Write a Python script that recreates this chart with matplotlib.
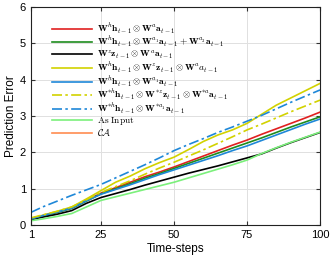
import matplotlib
matplotlib.use("Agg")
import matplotlib.pyplot as plt

x_steps = [1, 5, 10, 15, 20, 25, 30, 35, 40, 45, 50, 55, 60, 65, 70, 75, 80, 85, 90, 95, 100]

red_vals = [0.18, 0.26, 0.36, 0.47, 0.68, 0.88, 1.03, 1.18, 1.33, 1.46, 1.60, 1.75, 1.90, 2.05, 2.20, 2.34, 2.50, 2.65, 2.80, 2.95, 3.11]
green_vals = [0.16, 0.25, 0.35, 0.46, 0.66, 0.86, 1.00, 1.14, 1.29, 1.42, 1.56, 1.70, 1.84, 1.98, 2.12, 2.26, 2.40, 2.55, 2.70, 2.84, 2.98]
black_vals = [0.15, 0.22, 0.30, 0.40, 0.60, 0.76, 0.87, 0.98, 1.10, 1.21, 1.32, 1.43, 1.53, 1.63, 1.74, 1.85, 1.96, 2.12, 2.27, 2.41, 2.55]
yellow_vals = [0.18, 0.27, 0.38, 0.50, 0.72, 0.95, 1.18, 1.35, 1.55, 1.72, 1.87, 2.08, 2.30, 2.48, 2.62, 2.80, 3.05, 3.30, 3.50, 3.70, 3.90]
blue_vals = [0.17, 0.26, 0.36, 0.47, 0.67, 0.85, 0.98, 1.11, 1.25, 1.39, 1.52, 1.65, 1.78, 1.91, 2.05, 2.18, 2.33, 2.48, 2.63, 2.78, 2.92]
yellow_dd_vals = [0.20, 0.28, 0.38, 0.50, 0.70, 0.90, 1.06, 1.22, 1.40, 1.57, 1.73, 1.90, 2.07, 2.25, 2.43, 2.62, 2.78, 2.95, 3.12, 3.28, 3.44]
blue_dd_vals = [0.35, 0.50, 0.66, 0.82, 0.97, 1.12, 1.30, 1.48, 1.66, 1.85, 2.05, 2.22, 2.38, 2.55, 2.70, 2.86, 3.02, 3.20, 3.38, 3.55, 3.72]
input_vals = [0.12, 0.17, 0.24, 0.32, 0.50, 0.68, 0.78, 0.88, 0.98, 1.08, 1.18, 1.30, 1.42, 1.54, 1.66, 1.79, 1.97, 2.13, 2.28, 2.42, 2.56]
ca_x = []
ca_vals = []

x_ticks = [1, 25, 50, 75, 100]
y_ticks = [0, 1, 2, 3, 4, 5, 6]

labels = [
    r"$\mathbf{W}^{h}\mathbf{h}_{t-1}\otimes\mathbf{W}^{a}\mathbf{a}_{t-1}$",
    r"$\mathbf{W}^{h}\mathbf{h}_{t-1}\otimes\mathbf{W}^{a_1}\mathbf{a}_{t-1}+\mathbf{W}^{a_2}\mathbf{a}_{t-1}$",
    r"$\mathbf{W}^{z}\mathbf{z}_{t-1}\otimes\mathbf{W}^{a}\mathbf{a}_{t-1}$",
    r"$\mathbf{W}^{h}\mathbf{h}_{t-1}\otimes\mathbf{W}^{z}\mathbf{z}_{t-1}\otimes\mathbf{W}^{a}a_{t-1}$",
    r"$\mathbf{W}^{h}\mathbf{h}_{t-1}\otimes\mathbf{W}^{a_1}\mathbf{a}_{t-1}$",
    r"$\mathbf{W}^{*h}\mathbf{h}_{t-1}\otimes\mathbf{W}^{*z}\mathbf{z}_{t-1}\otimes\mathbf{W}^{*a}\mathbf{a}_{t-1}$",
    r"$\mathbf{W}^{*h}\mathbf{h}_{t-1}\otimes\mathbf{W}^{*a_1}\mathbf{a}_{t-1}$",
    r"$\mathrm{As\ Input}$",
    r"$\mathcal{CA}$",
]

plt.rcParams["mathtext.fontset"] = "cm"
plt.rcParams["font.family"] = ["Liberation Sans", "DejaVu Sans"]

fig = plt.figure(figsize=(3.32, 2.63), dpi=100)
ax = fig.add_axes([0.093, 0.144, 0.871, 0.829])

lw = 1.2
ax.plot(x_steps, red_vals, color="#e02020", lw=lw, label=labels[0])
ax.plot(x_steps, green_vals, color="#1e8c1e", lw=lw, label=labels[1])
ax.plot(x_steps, black_vals, color="#000000", lw=lw, label=labels[2])
ax.plot(x_steps, yellow_vals, color="#d2d200", lw=lw, label=labels[3])
ax.plot(x_steps, blue_vals, color="#1f88d8", lw=lw, label=labels[4])
ax.plot(x_steps, yellow_dd_vals, color="#d2d200", lw=lw, ls=(0, (6, 2, 1.5, 2)), label=labels[5])
ax.plot(x_steps, blue_dd_vals, color="#1f88d8", lw=lw, ls=(0, (6, 2, 1.5, 2)), label=labels[6])
ax.plot(x_steps, input_vals, color="#7cf07c", lw=lw, label=labels[7])
ax.plot(ca_x, ca_vals, color="#ff8c50", lw=lw, label=labels[8])

ax.set_xlim(1, 100)
ax.set_ylim(0, 6)
ax.set_xticks(x_ticks)
ax.set_yticks(y_ticks)
ax.tick_params(direction="in", labelsize=8, length=3, top=True, right=True, color="#333333")
ax.grid(True, color="#e0e0e0", lw=0.7)
ax.set_axisbelow(True)
for s in ax.spines.values():
    s.set_linewidth(0.8)
    s.set_color("#222222")
ax.set_xlabel("Time-steps", fontsize=8.5, labelpad=2)
ax.set_ylabel("Prediction Error", fontsize=8.5, labelpad=2)

leg = ax.legend(loc="upper left", bbox_to_anchor=(0.055, 0.955), frameon=False,
                fontsize=6.8, handlelength=4.3, labelspacing=-0.05, handletextpad=0.5,
                borderaxespad=0.3, borderpad=0.2)

fig.savefig("out.png", dpi=100)
